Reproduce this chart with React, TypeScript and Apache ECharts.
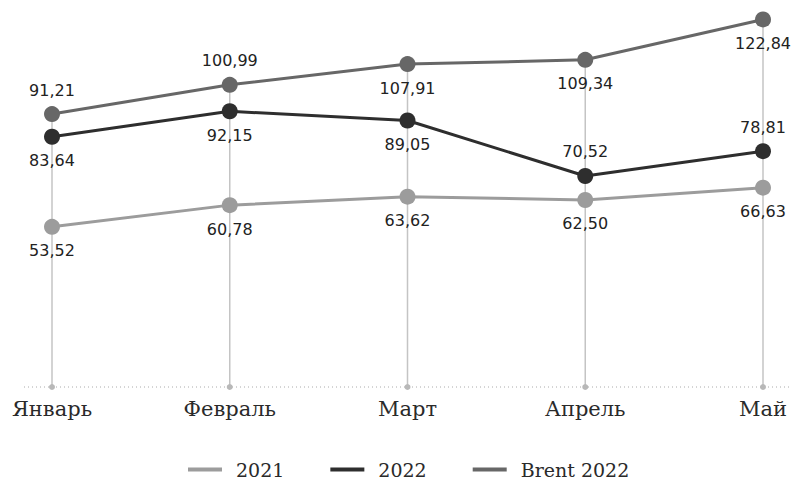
import React, { useEffect, useRef } from "react";
import * as echarts from "echarts";

const categories = ["Январь", "Февраль", "Март", "Апрель", "Май"];
const values2021 = [53.52, 60.78, 63.62, 62.5, 66.63];
const values2022 = [83.64, 92.15, 89.05, 70.52, 78.81];
const valuesBrent = [91.21, 100.99, 107.91, 109.34, 122.84];
const pos2021 = ["bottom", "bottom", "bottom", "bottom", "bottom"];
const pos2022 = ["bottom", "bottom", "bottom", "top", "top"];
const posBrent = ["top", "top", "bottom", "bottom", "bottom"];

const fmt = (v: number) => v.toFixed(2).replace(".", ",");

const labelFont = "DejaVu Sans";
const serifFont = "DejaVu Serif";

function mkSeries(name: string, values: number[], positions: string[], color: string) {
  return {
    name,
    type: "line",
    z: 3,
    data: values.map((v, i) => ({
      value: v,
      label: { position: positions[i] },
    })),
    symbol: "circle",
    symbolSize: 16,
    lineStyle: { color, width: 3 },
    itemStyle: { color },
    label: {
      show: true,
      distance: 8,
      color: "#222222",
      fontFamily: labelFont,
      fontSize: 16,
      formatter: (p: any) => fmt(p.value),
    },
  };
}

export default function App() {
  const ref = useRef<HTMLDivElement>(null);
  useEffect(() => {
    const chart = echarts.init(ref.current!, null, { renderer: "svg" });
    const maxVals = categories.map((_, i) =>
      Math.max(values2021[i], values2022[i], valuesBrent[i])
    );
    chart.setOption({
      animation: false,
      backgroundColor: "#ffffff",
      grid: { left: 52, right: 29, top: 4, bottom: 92 },
      legend: {
        left: 183,
        top: 455,
        itemWidth: 34,
        itemHeight: 4,
        itemGap: 46,
        icon: "rect",
        data: ["2021", "2022", "Brent 2022"],
        textStyle: {
          fontFamily: serifFont,
          fontSize: 19,
          color: "#2a2a2a",
          padding: [0, 0, 0, 9],
        },
      },
      xAxis: {
        type: "category",
        data: categories,
        boundaryGap: false,
        axisLine: { show: false },
        axisTick: { show: false },
        axisLabel: {
          margin: 11,
          fontFamily: serifFont,
          fontSize: 21,
          color: "#2a2a2a",
        },
      },
      yAxis: {
        type: "value",
        min: 0,
        max: 128,
        show: false,
        splitLine: { show: false },
      },
      graphic: [
        {
          type: "line",
          shape: { x1: 24, y1: 387, x2: 792, y2: 387 },
          style: { stroke: "#aaaaaa", lineWidth: 1, lineDash: [1, 3] },
          z: 0,
        },
      ],
      series: [
        {
          type: "custom",
          name: "stems",
          z: 1,
          silent: true,
          data: maxVals.map((v, i) => [i, v]),
          encode: { x: 0, y: 1 },
          renderItem: (params: any, api: any) => {
            const top = api.coord([api.value(0), api.value(1)]);
            const cs = params.coordSys;
            const bottomY = cs.y + cs.height;
            return {
              type: "group",
              children: [
                {
                  type: "line",
                  shape: { x1: top[0], y1: top[1], x2: top[0], y2: bottomY },
                  style: { stroke: "#c4c4c4", lineWidth: 1.5 },
                },
                {
                  type: "circle",
                  shape: { cx: top[0], cy: bottomY, r: 3 },
                  style: { fill: "#b8b8b8" },
                },
              ],
            };
          },
        },
        mkSeries("2021", values2021, pos2021, "#9c9c9c"),
        mkSeries("2022", values2022, pos2022, "#2e2e2e"),
        mkSeries("Brent 2022", valuesBrent, posBrent, "#676767"),
      ],
    });
    return () => chart.dispose();
  }, []);
  return (
    <div
      ref={ref}
      style={{ position: "fixed", left: 0, top: 0, width: 792, height: 479 }}
    />
  );
}
